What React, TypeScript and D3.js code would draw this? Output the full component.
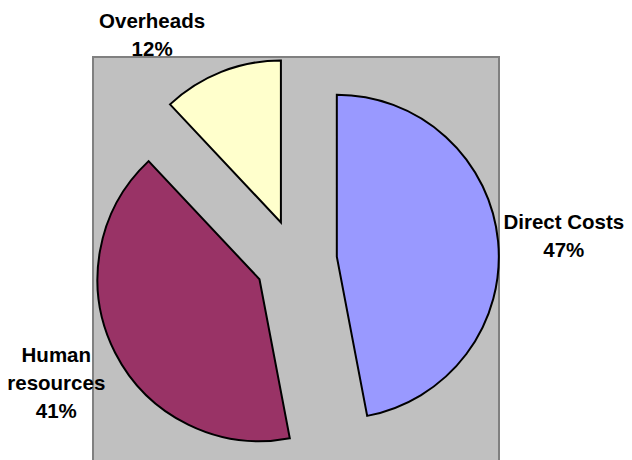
import React, { useRef, useEffect } from 'react';
import * as d3 from 'd3';

const categories = ['Direct Costs', 'Human resources', 'Overheads'];
const values = [47, 41, 12];
const colors = ['#9999FF', '#993366', '#FFFFCC'];
// label text broken into lines like the original
const labelLines = [['Direct Costs'], ['Human', 'resources'], ['Overheads']];

export default function App() {
  const ref = useRef<SVGSVGElement | null>(null);

  useEffect(() => {
    if (!ref.current) return;
    document.body.style.margin = '0';

    const plot = { x: 93, y: 57, w: 406 };
    const cx = plot.x + plot.w / 2;
    const cy = 260.6;
    const radius = 162;
    const explode = 41;
    const labelDist = 228;
    const fontSize = 20.5;
    const lineH = 28;
    const capH = fontSize * 0.716;

    const svg = d3.select(ref.current);
    svg.selectAll('*').remove();

    // plot area
    svg.append('rect')
      .attr('x', plot.x).attr('y', plot.y)
      .attr('width', plot.w).attr('height', 2 * (cy - plot.y))
      .attr('fill', '#C0C0C0')
      .attr('stroke', '#808080')
      .attr('stroke-width', 2);

    const total = d3.sum(values);
    const pct = d3.format('.0%');

    const pie = d3.pie<number>().sort(null).value(d => d);
    const arcs = pie(values);
    const arc = d3.arc<d3.PieArcDatum<number>>().innerRadius(0).outerRadius(radius);

    const g = svg.append('g').attr('transform', `translate(${cx},${cy})`);

    arcs.forEach((a, i) => {
      const mid = (a.startAngle + a.endAngle) / 2;
      const dx = Math.sin(mid), dy = -Math.cos(mid);
      g.append('path')
        .attr('d', arc(a) as string)
        .attr('transform', `translate(${dx * explode},${dy * explode})`)
        .attr('fill', colors[i])
        .attr('stroke', '#000')
        .attr('stroke-width', 2)
        .attr('stroke-linejoin', 'miter');
    });

    // data labels: centred on a circle round each exploded slice, slid along it if it hits the top
    arcs.forEach((a, i) => {
      const mid = (a.startAngle + a.endAngle) / 2;
      const dx = Math.sin(mid), dy = -Math.cos(mid);
      const ax = cx + dx * explode, ay = cy + dy * explode;
      const lines = [...labelLines[i], pct(values[i] / total)];
      const blockH = (lines.length - 1) * lineH + capH;
      let lx = ax + dx * labelDist;
      let ly = ay + dy * labelDist;
      const minY = 13 + blockH / 2;
      if (ly < minY) {
        ly = minY;
        lx = ax + Math.sign(dx) * Math.sqrt(labelDist * labelDist - (ay - ly) * (ay - ly));
      }
      const firstBase = ly - blockH / 2 + capH;
      const t = svg.append('text')
        .attr('text-anchor', 'middle')
        .attr('font-family', '"Liberation Sans", Arial, sans-serif')
        .attr('font-weight', 700)
        .attr('font-size', fontSize)
        .attr('fill', '#000');
      lines.forEach((s, j) => {
        t.append('tspan').attr('x', lx).attr('y', firstBase + j * lineH).text(s);
      });
    });
  }, []);

  return <svg ref={ref} width={632} height={460} style={{ display: 'block' }} />;
}
